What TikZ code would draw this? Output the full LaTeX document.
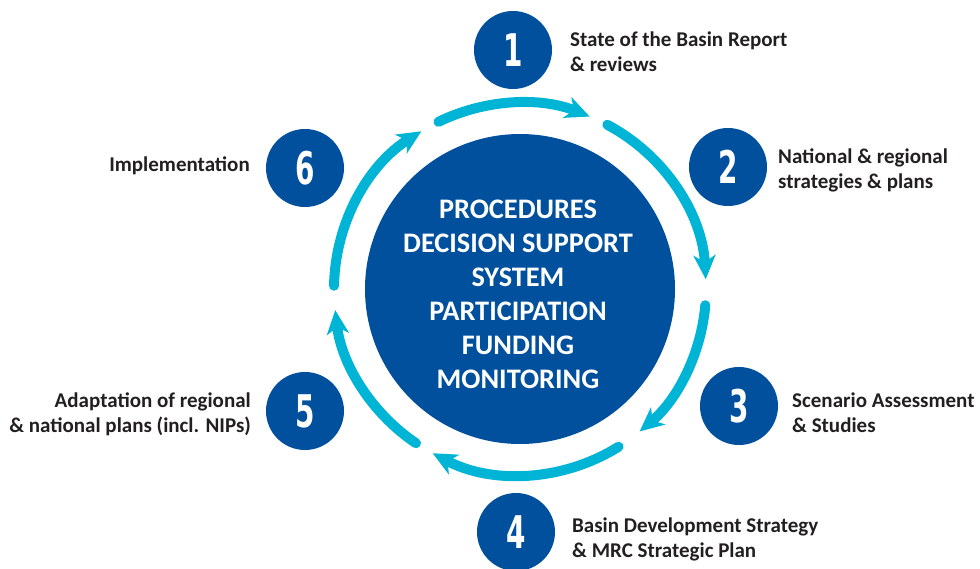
\documentclass[tikz,border=0pt]{standalone}
\usepackage{fontspec}
\usepackage{graphicx}
\setmainfont{Carlito}
\newfontfamily\numfont{DejaVu Sans}
\usetikzlibrary{arrows.meta}
\usetikzlibrary{positioning}
\definecolor{mrcblue}{RGB}{0,80,157}
\definecolor{ringcyan}{RGB}{0,180,214}
\definecolor{labelgray}{RGB}{35,31,32}
\newcommand{\stepnum}[1]{\scalebox{0.62}[1]{#1}}
\tikzset{num/.style = {circle, fill = mrcblue, inner sep = 0, minimum size = 78, text = white, font = \numfont\bfseries\fontsize{45}{45}\selectfont}}
\tikzset{lbl/.style = {text = labelgray, inner sep = 0, font = \bfseries\fontsize{21}{25}\selectfont}}
\tikzset{flow/.style = {ringcyan, line width = 10pt, line cap = round, -{Stealth[length = 24pt, width = 22pt, inset = 7pt]}}}

\begin{document}
\begin{tikzpicture}[x = 1pt, y = 1pt]
      \useasboundingbox (0, 0) rectangle (980, -568);

      \node [circle, fill = mrcblue, inner sep = 0, minimum size = 310] (core) at (520, -289) {};
      \node [text = white, align = center, font = \bfseries\fontsize{28.3}{34}\selectfont] (coretext) at (518, -294)
        {PROCEDURES\\DECISION SUPPORT\\SYSTEM\\PARTICIPATION\\FUNDING\\MONITORING};

      \draw [flow] ([shift = {(116:186)}] core.center) arc [start angle = 116, end angle = 68, radius = 186];
      \draw [flow] ([shift = {(62:186)}] core.center) arc [start angle = 62, end angle = 3, radius = 186];
      \draw [flow] ([shift = {(-5:186)}] core.center) arc [start angle = -5, end angle = -50, radius = 186];
      \draw [flow] ([shift = {(-58:186)}] core.center) arc [start angle = -58, end angle = -118, radius = 186];
      \draw [flow] ([shift = {(-124:186)}] core.center) arc [start angle = -124, end angle = -173.5, radius = 186];
      \draw [flow] ([shift = {(179:186)}] core.center) arc [start angle = 179, end angle = 122, radius = 186];

      \node [num] (n1) at (513, -50) {\stepnum{1}};
      \node [lbl, anchor = west, align = left] (l1) at (570, -51.3) {State of the Basin Report\\\& reviews};

      \node [num] (n2) at (728, -167) {\stepnum{2}};
      \node [lbl, anchor = west, align = left] (l2) at (778, -170.3) {National \& regional\\strategies \& plans};

      \node [num] (n3) at (739, -406) {\stepnum{3}};
      \node [lbl, anchor = west, align = left] (l3) at (792, -412.3) {Scenario Assessment\\\& Studies};

      \node [num] (n4) at (516, -532) {\stepnum{4}};
      \node [lbl, anchor = west, align = left] (l4) at (572, -539.3) {Basin Development Strategy\\\& MRC Strategic Plan};

      \node [num] (n5) at (305, -411) {\stepnum{5}};
      \node [lbl, anchor = east, align = right] (l5) at (251, -414.3) {Adaptation of regional\\\& national plans (incl. NIPs)};

      \node [num] (n6) at (305, -168) {\stepnum{6}};
      \node [lbl, anchor = east] (l6) at (250, -165.8) {Implementation};
\end{tikzpicture}
\end{document}
